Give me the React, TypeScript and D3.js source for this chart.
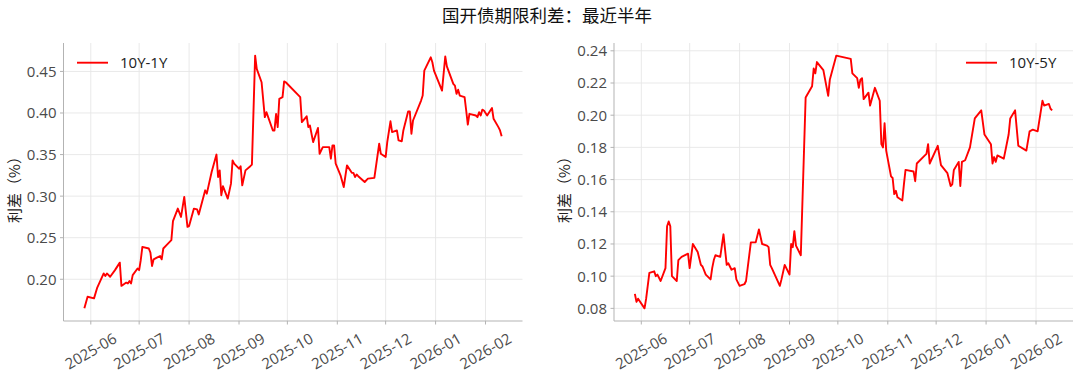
import React from "react";
import * as d3 from "d3";

const title = "国开债期限利差：最近半年";
const yLabel = "利差（%）";
const seriesNameA = "10Y-1Y";
const seriesNameB = "10Y-5Y";

const datesA = [
  "2025-05-28","2025-05-29","2025-05-30","2025-06-03","2025-06-05","2025-06-09","2025-06-10","2025-06-11","2025-06-13","2025-06-16",
  "2025-06-19","2025-06-20","2025-06-23","2025-06-24","2025-06-25","2025-06-26","2025-06-27","2025-06-30","2025-07-01","2025-07-02",
  "2025-07-03","2025-07-07","2025-07-08","2025-07-09","2025-07-10","2025-07-12","2025-07-14","2025-07-15","2025-07-16","2025-07-18",
  "2025-07-21","2025-07-22","2025-07-25","2025-07-27","2025-07-29","2025-07-31","2025-08-01","2025-08-04","2025-08-06","2025-08-07",
  "2025-08-11","2025-08-12","2025-08-15","2025-08-18","2025-08-19","2025-08-20","2025-08-21","2025-08-22","2025-08-25","2025-08-27",
  "2025-08-28","2025-08-29","2025-09-01","2025-09-02","2025-09-03","2025-09-05","2025-09-08","2025-09-09","2025-09-11","2025-09-12",
  "2025-09-15","2025-09-17","2025-09-18","2025-09-22","2025-09-23","2025-09-24","2025-09-25","2025-09-26","2025-09-28","2025-09-29",
  "2025-09-30","2025-10-09","2025-10-10","2025-10-13","2025-10-14","2025-10-15","2025-10-17","2025-10-20","2025-10-21","2025-10-23",
  "2025-10-27","2025-10-28","2025-10-29","2025-10-30","2025-10-31","2025-11-03","2025-11-05","2025-11-07","2025-11-10","2025-11-11",
  "2025-11-12","2025-11-13","2025-11-14","2025-11-18","2025-11-20","2025-11-24","2025-11-27","2025-11-28","2025-12-01","2025-12-02",
  "2025-12-04","2025-12-05","2025-12-08","2025-12-09","2025-12-11","2025-12-12","2025-12-15","2025-12-16","2025-12-17","2025-12-18",
  "2025-12-23","2025-12-24","2025-12-25","2025-12-29","2025-12-30","2025-12-31","2026-01-05","2026-01-07","2026-01-08","2026-01-12",
  "2026-01-13","2026-01-14","2026-01-15","2026-01-16","2026-01-19","2026-01-20","2026-01-21","2026-01-22","2026-01-26","2026-01-27",
  "2026-01-28","2026-01-29","2026-01-30","2026-01-31","2026-02-02","2026-02-05","2026-02-06","2026-02-09","2026-02-10","2026-02-11",
];
const spread10y1y = [
  0.165,0.172,0.179,0.177,0.190,0.207,0.204,0.207,0.203,0.211,
  0.220,0.192,0.196,0.195,0.198,0.195,0.205,0.213,0.211,0.223,
  0.239,0.237,0.232,0.216,0.224,0.226,0.228,0.224,0.237,0.241,
  0.247,0.270,0.285,0.275,0.299,0.263,0.264,0.285,0.284,0.278,
  0.307,0.303,0.329,0.350,0.323,0.331,0.301,0.312,0.297,0.315,
  0.343,0.339,0.333,0.336,0.313,0.331,0.336,0.338,0.469,0.453,
  0.437,0.395,0.401,0.379,0.379,0.399,0.383,0.417,0.419,0.438,
  0.437,0.419,0.389,0.396,0.383,0.385,0.365,0.382,0.351,0.359,
  0.359,0.345,0.361,0.361,0.339,0.325,0.311,0.337,0.328,0.328,
  0.323,0.326,0.324,0.317,0.321,0.322,0.363,0.351,0.347,0.365,
  0.390,0.377,0.379,0.367,0.366,0.379,0.402,0.402,0.375,0.391,
  0.415,0.421,0.451,0.467,0.461,0.451,0.427,0.468,0.456,0.435,
  0.433,0.423,0.428,0.421,0.419,0.403,0.386,0.399,0.397,0.395,
  0.401,0.397,0.404,0.403,0.397,0.406,0.393,0.383,0.379,0.372,
];

const datesB = [
  "2025-05-28","2025-05-29","2025-05-30","2025-06-03","2025-06-04","2025-06-06","2025-06-09","2025-06-10","2025-06-11","2025-06-13",
  "2025-06-16","2025-06-17","2025-06-18","2025-06-19","2025-06-20","2025-06-23","2025-06-24","2025-06-26","2025-06-30","2025-07-01",
  "2025-07-03","2025-07-06","2025-07-08","2025-07-09","2025-07-11","2025-07-14","2025-07-15","2025-07-16","2025-07-17","2025-07-20",
  "2025-07-22","2025-07-24","2025-07-25","2025-07-27","2025-07-29","2025-07-30","2025-08-01","2025-08-04","2025-08-05","2025-08-08",
  "2025-08-11","2025-08-13","2025-08-15","2025-08-18","2025-08-19","2025-08-20","2025-08-21","2025-08-26","2025-08-27","2025-08-29",
  "2025-09-01","2025-09-02","2025-09-03","2025-09-04","2025-09-05","2025-09-08","2025-09-11","2025-09-15","2025-09-16","2025-09-17",
  "2025-09-18","2025-09-22","2025-09-25","2025-09-26","2025-09-30","2025-10-09","2025-10-10","2025-10-13","2025-10-14","2025-10-15",
  "2025-10-16","2025-10-17","2025-10-20","2025-10-21","2025-10-24","2025-10-27","2025-10-28","2025-10-29","2025-10-30","2025-10-31",
  "2025-11-03","2025-11-04","2025-11-05","2025-11-06","2025-11-07","2025-11-10","2025-11-11","2025-11-12","2025-11-17","2025-11-18",
  "2025-11-19","2025-11-24","2025-11-25","2025-11-26","2025-11-27","2025-12-02","2025-12-04","2025-12-08","2025-12-10","2025-12-11",
  "2025-12-12","2025-12-15","2025-12-16","2025-12-17","2025-12-19","2025-12-22","2025-12-25","2025-12-29","2025-12-31","2026-01-04",
  "2026-01-05","2026-01-06","2026-01-07","2026-01-08","2026-01-12","2026-01-15","2026-01-16","2026-01-19","2026-01-21","2026-01-26",
  "2026-01-28","2026-01-30","2026-02-02","2026-02-05","2026-02-06","2026-02-09","2026-02-10","2026-02-11",
];
const spread10y5y = [
  0.089,0.084,0.086,0.080,0.086,0.102,0.103,0.100,0.101,0.097,
  0.105,0.131,0.134,0.131,0.100,0.097,0.110,0.112,0.114,0.105,
  0.120,0.115,0.107,0.106,0.101,0.098,0.105,0.110,0.113,0.112,
  0.126,0.107,0.108,0.104,0.105,0.098,0.094,0.095,0.097,0.121,
  0.121,0.129,0.120,0.119,0.118,0.107,0.105,0.094,0.098,0.107,
  0.101,0.120,0.118,0.128,0.119,0.113,0.211,0.218,0.229,0.226,
  0.233,0.228,0.212,0.222,0.237,0.235,0.226,0.223,0.217,0.222,
  0.223,0.210,0.214,0.206,0.217,0.209,0.182,0.180,0.195,0.178,
  0.162,0.161,0.151,0.153,0.149,0.147,0.157,0.166,0.165,0.159,
  0.170,0.175,0.176,0.182,0.170,0.181,0.169,0.164,0.156,0.157,
  0.166,0.171,0.156,0.171,0.172,0.180,0.198,0.203,0.188,0.182,
  0.170,0.174,0.171,0.175,0.173,0.188,0.198,0.203,0.181,0.178,
  0.190,0.191,0.190,0.209,0.206,0.207,0.204,0.203,
];

const yTicksA = [0.2, 0.25, 0.3, 0.35, 0.4, 0.45];
const yTicksB = [0.08, 0.1, 0.12, 0.14, 0.16, 0.18, 0.2, 0.22, 0.24];
const monthTicks = ["2025-06","2025-07","2025-08","2025-09","2025-10","2025-11","2025-12","2026-01","2026-02"];

const W = 1080;
const H = 379;
const TOP = 43;
const BOTTOM = 321;
const FONT = "'Open Sans', 'Noto Sans CJK SC', sans-serif";
const CJK = "'Noto Sans CJK SC', sans-serif";
const TICK_COLOR = "#4a4a4a";
const SPINE = "#b3b3b3";
const GRID = "#e6e6e6";
const parse = d3.timeParse("%Y-%m-%d");
const parseMonth = d3.timeParse("%Y-%m");

function Panel({ dates, values, left, right, yTicks, name, legendSide, labelX }) {
  const pts = dates.map((d, i) => ({ t: parse(d), v: values[i] }));
  const [t0, t1] = d3.extent(pts, (p) => p.t);
  const span = +t1 - +t0;
  const x = d3.scaleTime()
    .domain([new Date(+t0 - span * 0.05), new Date(+t1 + span * 0.05)])
    .range([left, right]);
  const [v0, v1] = d3.extent(pts, (p) => p.v);
  const vs = v1 - v0;
  const y = d3.scaleLinear().domain([v0 - vs * 0.05, v1 + vs * 0.05]).range([BOTTOM, TOP]);
  const line = d3.line().x((p) => x(p.t)).y((p) => y(p.v));
  const legY = 62.7;
  const lx0 = legendSide === "left" ? left + 13.5 : right - 107;
  const labY = (TOP + BOTTOM) / 2 + 4;
  return (
    <g>
      {monthTicks.map((m) => {
        const tx = x(parseMonth(m));
        return <line key={"gx" + m} x1={tx} x2={tx} y1={TOP} y2={BOTTOM} stroke={GRID} strokeWidth={0.9} />;
      })}
      {yTicks.map((v) => (
        <line key={"gy" + v} x1={left} x2={right} y1={y(v)} y2={y(v)} stroke={GRID} strokeWidth={0.9} />
      ))}
      <path d={line(pts)} fill="none" stroke="#ff0000" strokeWidth={1.9} strokeLinejoin="round" />
      <line x1={left} x2={left} y1={TOP} y2={BOTTOM} stroke={SPINE} strokeWidth={1} />
      <line x1={left} x2={right} y1={BOTTOM} y2={BOTTOM} stroke={SPINE} strokeWidth={1} />
      {yTicks.map((v) => (
        <g key={"ty" + v}>
          <line x1={left - 3.5} x2={left} y1={y(v)} y2={y(v)} stroke={SPINE} strokeWidth={1} />
          <text x={left - 7} y={y(v)} dy="0.36em" textAnchor="end" fontSize={15} fill={TICK_COLOR} fontFamily={FONT}>
            {d3.format(".2f")(v)}
          </text>
        </g>
      ))}
      {monthTicks.map((m) => {
        const tx = x(parseMonth(m));
        const cy = 351;
        return (
          <g key={"tx" + m}>
            <line x1={tx} x2={tx} y1={BOTTOM} y2={BOTTOM + 3.5} stroke={SPINE} strokeWidth={1} />
            <text x={tx} y={cy} dy="0.36em" textAnchor="middle" fontSize={15} fill={TICK_COLOR} fontFamily={FONT}
              transform={`rotate(-30, ${tx}, ${cy})`}>
              {m}
            </text>
          </g>
        );
      })}
      <text x={labelX} y={labY} textAnchor="middle" dy="0.35em" fontSize={15} fill="#222" fontFamily={CJK}
        transform={`rotate(-90, ${labelX}, ${labY})`}>
        {yLabel}
      </text>
      <line x1={lx0} x2={lx0 + 31} y1={legY} y2={legY} stroke="#ff0000" strokeWidth={1.9} />
      <text x={lx0 + 43} y={legY} dy="0.36em" fontSize={15} fill="#222" fontFamily={FONT}>{name}</text>
    </g>
  );
}

export default function App() {
  return (
    <svg width={W} height={H} viewBox={`0 0 ${W} ${H}`}
      style={{ position: "absolute", left: 0, top: 0, background: "#fff" }}>
      <rect width={W} height={H} fill="#fff" />
      <text x={442} y={15.5} dy="0.35em" fontSize={17.5} fill="#111" fontFamily={CJK}>{title}</text>
      <Panel dates={datesA} values={spread10y1y} left={63.5} right={522.5} yTicks={yTicksA}
        name={seriesNameA} legendSide="left" labelX={15} />
      <Panel dates={datesB} values={spread10y5y} left={614} right={1073} yTicks={yTicksB}
        name={seriesNameB} legendSide="right" labelX={565} />
    </svg>
  );
}
